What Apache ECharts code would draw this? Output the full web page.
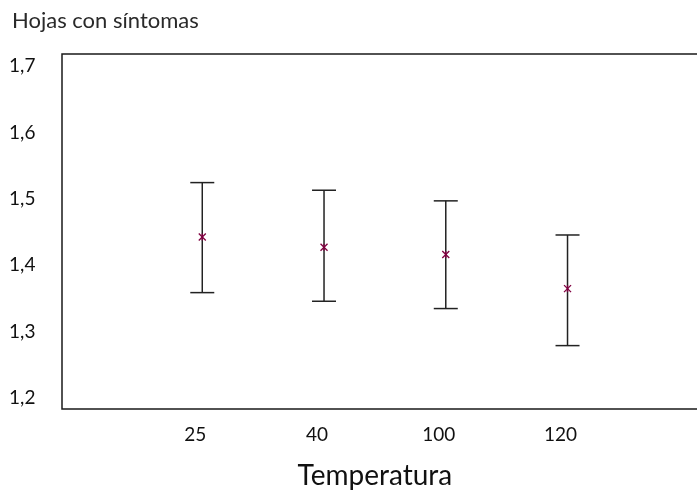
<!DOCTYPE html>
<html><head><meta charset="utf-8">
<script src="https://cdn.jsdelivr.net/npm/echarts@6/dist/echarts.min.js"></script>
<style>html,body{margin:0;padding:0;background:#fff}#c{width:697px;height:495px}</style>
</head><body><div id="c"></div>
<script>
const categories = ['25', '40', '100', '120'];
const means = [1.4425, 1.4271, 1.416, 1.3647];
const upper = [1.5244, 1.5129, 1.4969, 1.4455];
const lower = [1.3587, 1.3457, 1.3347, 1.2789];
const yTicks = [1.2, 1.3, 1.4, 1.5, 1.6, 1.7];

const FONT = 'Lato';
const chart = echarts.init(document.getElementById('c'), null, {renderer: 'canvas'});
const data = categories.map((c, i) => [i, means[i], upper[i], lower[i]]);

chart.setOption({
  animation: false,
  title: {text: 'Hojas con síntomas', left: 7, top: 5,
    textStyle: {fontFamily: FONT, fontSize: 22, fontWeight: 'normal', color: '#2a2a2a'}},
  graphic: [{type: 'rect', shape: {x: 62, y: 54, width: 700, height: 355},
    style: {fill: 'none', stroke: '#1a1a1a', lineWidth: 1.5}, z: 10}],
  grid: {left: 141.4, top: 66, width: 487, height: 334},
  xAxis: {type: 'category', data: categories, boundaryGap: true,
    axisLine: {show: false}, axisTick: {show: false}, splitLine: {show: false},
    axisLabel: {margin: 27, fontFamily: FONT, fontSize: 19, color: '#111', padding: [0, 14, 0, 0]},
    name: 'Temperatura', nameLocation: 'middle', nameGap: 64,
    nameTextStyle: {fontFamily: FONT, fontSize: 28, color: '#111', padding: [0, 20, 0, 0]}},
  yAxis: {type: 'value', min: yTicks[0], max: yTicks[yTicks.length - 1], interval: 0.1,
    axisLine: {show: false}, axisTick: {show: false}, splitLine: {show: false},
    axisLabel: {margin: 106, fontFamily: FONT, fontSize: 19, color: '#111',
      formatter: v => v.toFixed(1).replace('.', ',')}},
  series: [{
    type: 'custom',
    data: data,
    encode: {x: 0, y: [1, 2, 3]},
    renderItem: (params, api) => {
      const x = api.value(0);
      const pm = api.coord([x, api.value(1)]);
      const pu = api.coord([x, api.value(2)]);
      const pl = api.coord([x, api.value(3)]);
      const cap = 12, s = 3.5;
      const ls = {stroke: '#222', lineWidth: 1.5};
      const ms = {stroke: '#800040', lineWidth: 1.3};
      return {type: 'group', children: [
        {type: 'line', shape: {x1: pu[0], y1: pu[1], x2: pl[0], y2: pl[1]}, style: ls},
        {type: 'line', shape: {x1: pu[0] - cap, y1: pu[1], x2: pu[0] + cap, y2: pu[1]}, style: ls},
        {type: 'line', shape: {x1: pl[0] - cap, y1: pl[1], x2: pl[0] + cap, y2: pl[1]}, style: ls},
        {type: 'line', shape: {x1: pm[0] - s, y1: pm[1] - s, x2: pm[0] + s, y2: pm[1] + s}, style: ms},
        {type: 'line', shape: {x1: pm[0] - s, y1: pm[1] + s, x2: pm[0] + s, y2: pm[1] - s}, style: ms},
        {type: 'line', shape: {x1: pm[0], y1: pm[1] - s, x2: pm[0], y2: pm[1] + s}, style: ms}
      ]};
    }
  }]
});
</script></body></html>
